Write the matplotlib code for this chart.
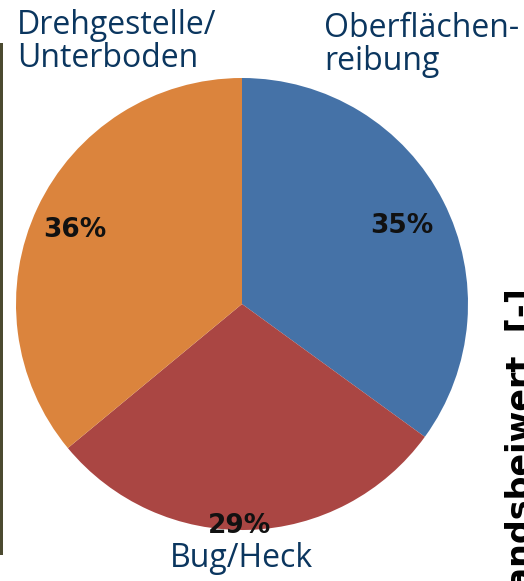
#!/usr/bin/env python3
"""
Pie chart: share of aerodynamic drag by source.
"""

import matplotlib
matplotlib.use("Agg")
import matplotlib.pyplot as plt
from matplotlib.patches import Rectangle

labels = ["Oberflächen-\nreibung", "Bug/Heck", "Drehgestelle/\nUnterboden"]
shares = [35, 29, 36]
colors = ["#4572A7", "#AA4643", "#DB843D"]

W, H = 524, 581
fig = plt.figure(figsize=(W / 100, H / 100), dpi=100)
ax = fig.add_axes([0, 0, 1, 1])

cx, cy, r = 242, H - 304, 226
wedges, _, pcts = ax.pie(
    shares,
    colors=colors,
    startangle=90,
    counterclock=False,
    center=(cx, cy),
    radius=r,
    autopct="%d%%",
    pctdistance=0.8,
    frame=True,
    wedgeprops={"linewidth": 0},
    textprops={"fontsize": 19, "fontweight": "bold", "family": "DejaVu Sans", "color": "#111111"},
)
ax.set_xlim(0, W)
ax.set_ylim(0, H)
ax.set_aspect("equal")
ax.axis("off")

# label spots as in the original slide
for t, (px, py) in zip(pcts, [(402, 226), (240, 526), (75, 230)]):
    t.set_position((px, H - py))

name_kw = dict(family="Open Sans", fontsize=23, color="#0b365f", linespacing=1.0, ha="left")
ax.text(324, H - 12, labels[0], va="top", **name_kw)
ax.text(17, H - 9, labels[2], va="top", **name_kw)
ax.text(170, H - 567, labels[1], va="baseline", **name_kw)

# neighbouring chart cut off at the right edge
ax.text(531, H - 288, "Luftwiderstandsbeiwert  [-]", rotation=90, rotation_mode="anchor",
        ha="right", va="baseline", fontsize=24, fontweight="bold",
        family="DejaVu Sans", color="#000000", clip_on=False)

# photo strip at the left edge
ax.add_patch(Rectangle((0, H - 555), 3, 512, color="#4b4a30", lw=0))

fig.savefig("out.png", dpi=100)
